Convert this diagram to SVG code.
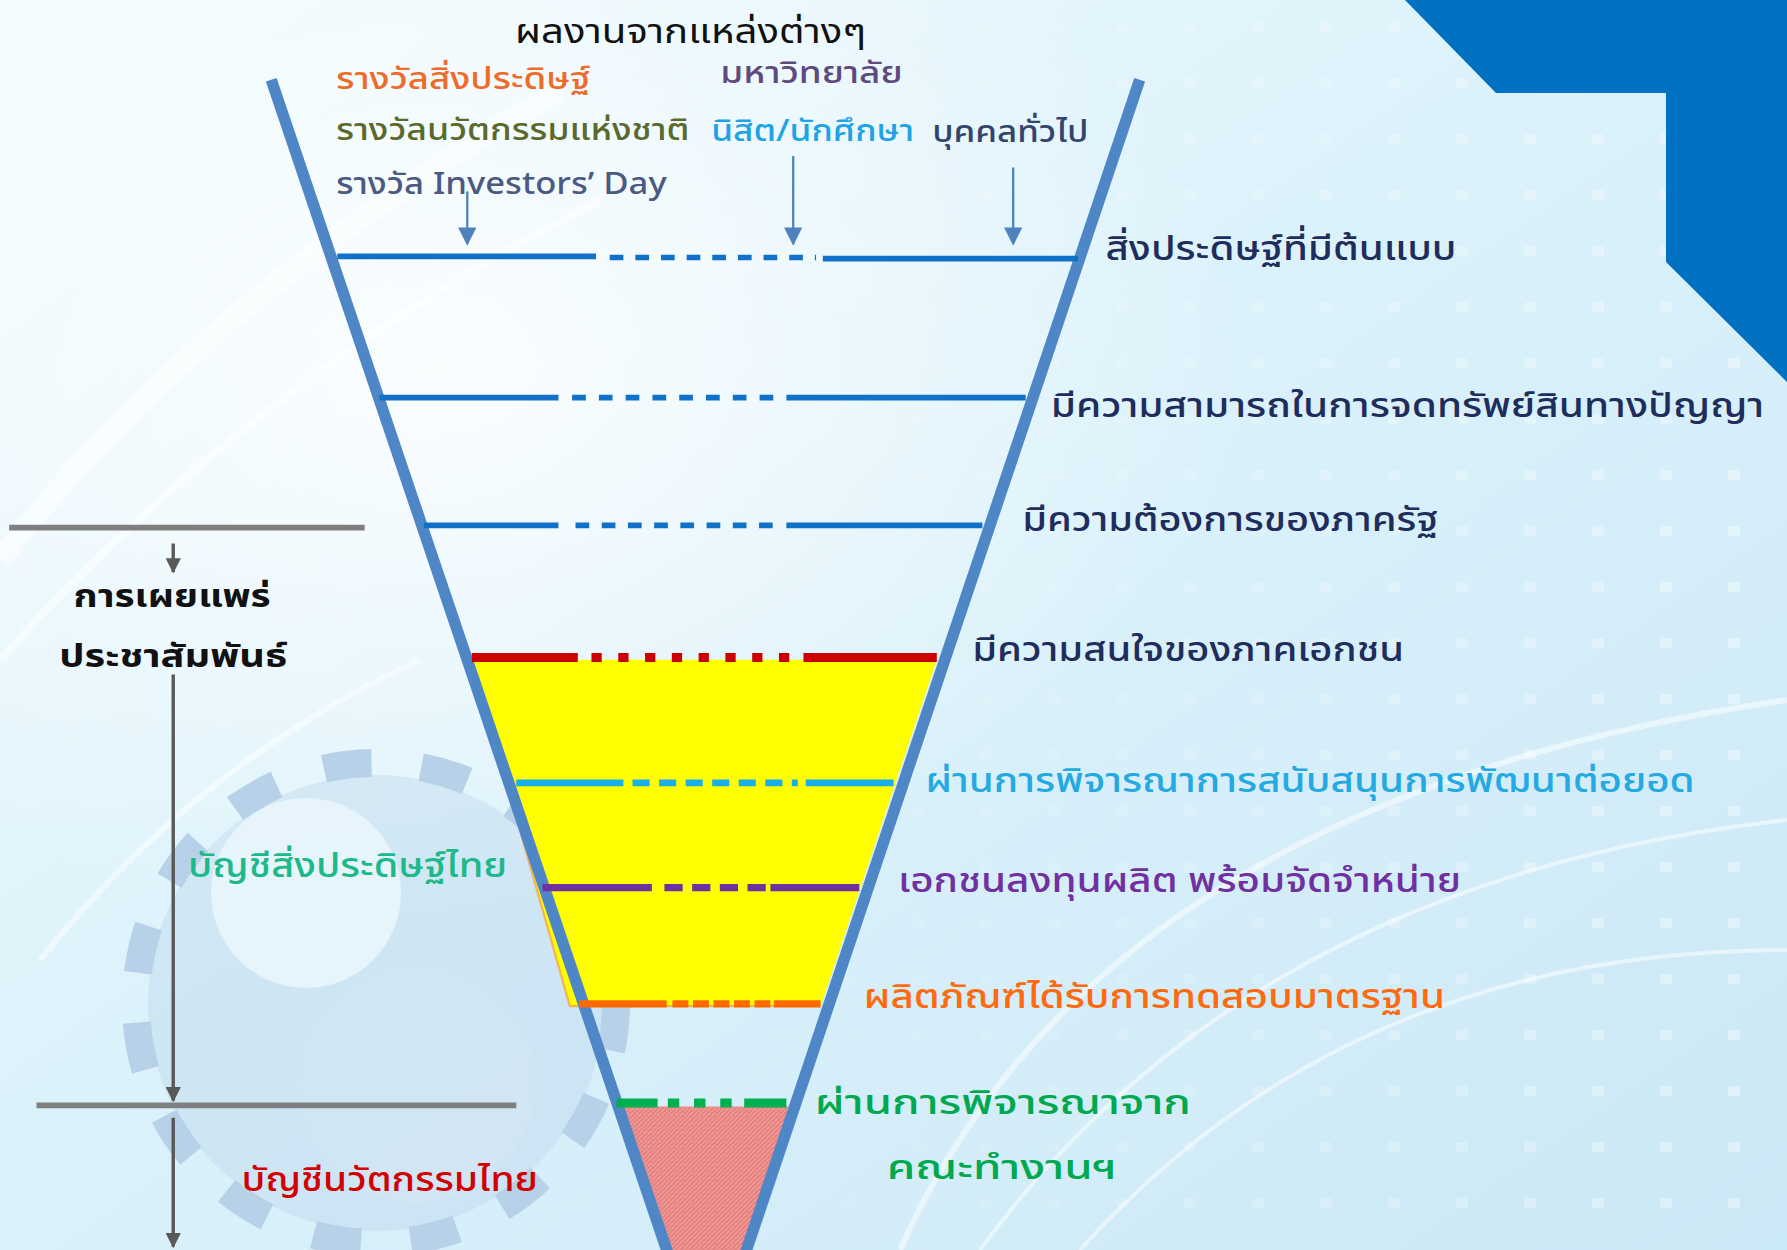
<svg xmlns="http://www.w3.org/2000/svg" width="1787" height="1250" viewBox="0 0 1787 1250">
<defs>
  <linearGradient id="bg" x1="0" y1="0" x2="1" y2="1">
    <stop offset="0" stop-color="#f4fcfe"/>
    <stop offset="0.45" stop-color="#dcf2fb"/>
    <stop offset="1" stop-color="#cbe8f6"/>
  </linearGradient>
  <radialGradient id="glow" cx="0.25" cy="0.3" r="0.45">
    <stop offset="0" stop-color="#ffffff" stop-opacity="0.8"/>
    <stop offset="1" stop-color="#ffffff" stop-opacity="0"/>
  </radialGradient>
  <linearGradient id="dotfade" x1="0" y1="0" x2="1" y2="0">
    <stop offset="0" stop-color="#ffffff" stop-opacity="0"/>
    <stop offset="0.45" stop-color="#ffffff" stop-opacity="0.1"/>
    <stop offset="1" stop-color="#ffffff" stop-opacity="1"/>
  </linearGradient>
  <mask id="dotmask"><rect width="1787" height="1250" fill="url(#dotfade)"/></mask>
  <pattern id="dots" width="68" height="56" patternUnits="userSpaceOnUse">
    <rect x="28" y="22" width="12" height="10" rx="3" fill="#ffffff" fill-opacity="0.4"/>
  </pattern>
  <pattern id="hatch" width="4" height="4" patternUnits="userSpaceOnUse">
    <rect width="4" height="4" fill="#e57f7c"/>
    <path d="M0 4 L4 0" stroke="#f2a6a3" stroke-width="1"/>
  </pattern>
  <marker id="ab" viewBox="0 0 10 10" refX="9" refY="5" markerWidth="8" markerHeight="8" orient="auto" markerUnits="strokeWidth">
    <path d="M0 0 L10 5 L0 10 z" fill="#4f81bd"/>
  </marker>
  <marker id="ag" viewBox="0 0 10 10" refX="9" refY="5" markerWidth="4.5" markerHeight="4.5" orient="auto" markerUnits="strokeWidth">
    <path d="M0 0 L10 5 L0 10 z" fill="#595959"/>
  </marker>
  <style>
    .t { font-family: "Noto Sans Thai", "Tahoma", "Noto Sans", "DejaVu Sans", sans-serif; }
    .nav { fill: #1f2d5c; font-size: 30px; font-weight: 500; }
    .funnel { stroke: #4f86c6; stroke-width: 10; stroke-linecap: butt; fill: none; }
    .blu { stroke: #1170c8; stroke-width: 5; fill: none; }
    .gray { stroke: #7f7f7f; stroke-width: 5; fill: none; }
    .garr { stroke: #595959; stroke-width: 3; fill: none; }
    .barr { stroke: #4f81bd; stroke-width: 2; fill: none; }
  </style>
</defs>

<g id="background">
  <rect width="1787" height="1250" fill="url(#bg)"/>
  <rect width="1787" height="1250" fill="url(#glow)"/>
  <rect width="1787" height="1250" fill="url(#dots)" mask="url(#dotmask)"/>
  <g fill="none" stroke="#ffffff" stroke-opacity="0.5">
    <path d="M0 560 Q200 300 560 90" stroke-width="22"/>
    <path d="M0 660 Q250 380 600 200" stroke-width="8"/>
    <path d="M40 960 Q200 760 420 660" stroke-width="6"/>
    <path d="M900 1250 Q1100 800 1787 700" stroke-width="6"/>
    <path d="M980 1250 Q1250 880 1787 820" stroke-width="4"/>
    <path d="M1080 1250 Q1350 950 1787 950" stroke-width="4"/>
  </g>
  <g transform="translate(376,1003)" fill="#b7d1e8" fill-opacity="0.35">
    <circle r="228"/>
    <circle r="240" fill="none" stroke="#b7d1e8" stroke-width="28" stroke-dasharray="48 50" stroke-linejoin="round"/>
    <circle cx="-70" cy="-110" r="95" fill="#eaf6fc" fill-opacity="0.85"/>
    <circle cx="40" cy="80" r="120" fill="#d3e6f3" fill-opacity="0.6"/>
  </g>
  <polygon points="1405,0 1787,0 1787,382 1666,262 1666,93 1496,93" fill="#0070c0"/>
</g>

<g transform="scale(1.13967,1.13947)">
  <g id="fills">
    <polygon points="414,579 822,579 720,883 500,883" fill="#ffff00"/>
    <path d="M414 579 L500 883 L720 883" fill="none" stroke="#ff9a3c" stroke-width="2" stroke-opacity="0.7"/>
    <polygon points="547,971 692,971 655,1097 586,1097" fill="url(#hatch)"/>
  </g>

  <g id="connectors">
    <line class="funnel" x1="238" y1="70" x2="586" y2="1100"/>
    <line class="funnel" x1="1000" y1="70" x2="654" y2="1100"/>

    <line class="blu" x1="296" y1="225" x2="523" y2="225"/>
    <line class="blu" x1="535" y1="226" x2="716" y2="226" stroke-dasharray="12 10.5" stroke-width="6"/>
    <line class="blu" x1="722" y1="227" x2="946" y2="227"/>

    <line class="blu" x1="333" y1="349" x2="490" y2="349"/>
    <line class="blu" x1="502" y1="349" x2="686" y2="349" stroke-dasharray="12 11.5" stroke-width="6"/>
    <line class="blu" x1="690" y1="349" x2="900" y2="349"/>

    <line class="blu" x1="372" y1="461" x2="490" y2="461"/>
    <line class="blu" x1="505" y1="461" x2="686" y2="461" stroke-dasharray="12 11" stroke-width="6"/>
    <line class="blu" x1="690" y1="461" x2="862" y2="461"/>

    <g stroke="#cc0000" stroke-width="8" fill="none">
      <line x1="414" y1="577" x2="507" y2="577"/>
      <line x1="519" y1="577" x2="697" y2="577" stroke-dasharray="9 14.5"/>
      <line x1="705" y1="577" x2="822" y2="577"/>
    </g>
    <g stroke="#17b0ea" stroke-width="6" fill="none">
      <line x1="453" y1="687" x2="547" y2="687"/>
      <line x1="555" y1="687" x2="700" y2="687" stroke-dasharray="15 8.3"/>
      <line x1="707" y1="687" x2="784" y2="687"/>
    </g>
    <g stroke="#7030a0" stroke-width="6.5" fill="none">
      <line x1="476" y1="779" x2="572" y2="779"/>
      <line x1="583" y1="779" x2="672" y2="779" stroke-dasharray="16 8.3"/>
      <line x1="676" y1="779" x2="754" y2="779"/>
    </g>
    <g stroke="#ff6a00" stroke-width="6.5" fill="none">
      <line x1="508" y1="881" x2="585" y2="881"/>
      <line x1="590" y1="881" x2="676" y2="881" stroke-dasharray="14 4"/>
      <line x1="679" y1="881" x2="720" y2="881"/>
    </g>
    <g stroke="#00b050" stroke-width="8" fill="none">
      <line x1="541" y1="968" x2="577" y2="968"/>
      <line x1="586" y1="968" x2="644" y2="968" stroke-dasharray="10 13"/>
      <line x1="653" y1="968" x2="690" y2="968"/>
    </g>

    <line class="barr" x1="410" y1="168" x2="410" y2="214" marker-end="url(#ab)"/>
    <line class="barr" x1="696" y1="137" x2="696" y2="214" marker-end="url(#ab)"/>
    <line class="barr" x1="889" y1="147" x2="889" y2="214" marker-end="url(#ab)"/>

    <line class="gray" x1="8" y1="463" x2="320" y2="463"/>
    <line class="gray" x1="32" y1="970" x2="453" y2="970"/>
    <line class="garr" x1="152" y1="477" x2="152" y2="502" marker-end="url(#ag)"/>
    <line class="garr" x1="152" y1="592" x2="152" y2="966" marker-end="url(#ag)"/>
    <line class="garr" x1="152" y1="981" x2="152" y2="1094" marker-end="url(#ag)"/>
  </g>

  <g id="title">
    <text class="t" x="606" y="38" text-anchor="middle" font-size="29" fill="#111111" textLength="308" lengthAdjust="spacingAndGlyphs">ผลงานจากแหล่งต่างๆ</text>
  </g>
  <g id="sources">
    <text class="t" x="295" y="78" font-size="27" font-weight="500" fill="#ed6c2a" textLength="223" lengthAdjust="spacingAndGlyphs">รางวัลสิ่งประดิษฐ์</text>
    <text class="t" x="632" y="73" font-size="27" font-weight="500" fill="#5f4a80" textLength="160" lengthAdjust="spacingAndGlyphs">มหาวิทยาลัย</text>
    <text class="t" x="295" y="123" font-size="27" font-weight="500" fill="#5a6a2c" textLength="310" lengthAdjust="spacingAndGlyphs">รางวัลนวัตกรรมแห่งชาติ</text>
    <text class="t" x="624" y="124" font-size="27" font-weight="500" fill="#1ea4e6" textLength="178" lengthAdjust="spacingAndGlyphs">นิสิต/นักศึกษา</text>
    <text class="t" x="818" y="125" font-size="27" font-weight="500" fill="#33456e" textLength="137" lengthAdjust="spacingAndGlyphs">บุคคลทั่วไป</text>
    <text class="t" x="295" y="170" font-size="27" font-weight="500" fill="#4a5a82" textLength="290" lengthAdjust="spacingAndGlyphs">รางวัล Investors’ Day</text>
  </g>

  <g id="node-prototype"><text class="t nav" x="970" y="228" textLength="308" lengthAdjust="spacingAndGlyphs">สิ่งประดิษฐ์ที่มีต้นแบบ</text></g>
  <g id="node-ip"><text class="t nav" x="922" y="366" textLength="626" lengthAdjust="spacingAndGlyphs">มีความสามารถในการจดทรัพย์สินทางปัญญา</text></g>
  <g id="node-gov"><text class="t nav" x="897" y="466" textLength="365" lengthAdjust="spacingAndGlyphs">มีความต้องการของภาครัฐ</text></g>
  <g id="node-private"><text class="t nav" x="853" y="580" textLength="379" lengthAdjust="spacingAndGlyphs">มีความสนใจของภาคเอกชน</text></g>
  <g id="node-support"><text class="t" x="812" y="695" font-size="30" font-weight="500" fill="#25a9e2" textLength="675" lengthAdjust="spacingAndGlyphs">ผ่านการพิจารณาการสนับสนุนการพัฒนาต่อยอด</text></g>
  <g id="node-invest"><text class="t" x="788" y="783" font-size="30" font-weight="500" fill="#7030a0" textLength="494" lengthAdjust="spacingAndGlyphs">เอกชนลงทุนผลิต พร้อมจัดจำหน่าย</text></g>
  <g id="node-standard"><text class="t" x="758" y="885" font-size="30" font-weight="500" fill="#ff6a10" textLength="510" lengthAdjust="spacingAndGlyphs">ผลิตภัณฑ์ได้รับการทดสอบมาตรฐาน</text></g>
  <g id="node-committee">
    <text class="t" x="715" y="978" font-size="30" font-weight="500" fill="#00a84f" textLength="330" lengthAdjust="spacingAndGlyphs">ผ่านการพิจารณาจาก</text>
    <text class="t" x="778" y="1035" font-size="30" font-weight="500" fill="#00a84f" textLength="202" lengthAdjust="spacingAndGlyphs">คณะทำงานฯ</text>
  </g>

  <g id="node-pr">
    <text class="t" x="151" y="533" text-anchor="middle" font-size="28" font-weight="bold" fill="#111111" textLength="173" lengthAdjust="spacingAndGlyphs">การเผยแพร่</text>
    <text class="t" x="152" y="585" text-anchor="middle" font-size="28" font-weight="bold" fill="#111111" textLength="200" lengthAdjust="spacingAndGlyphs">ประชาสัมพันธ์</text>
  </g>
  <g id="node-invention-list"><text class="t" x="165" y="770" font-size="29" font-weight="500" fill="#1db98a" textLength="280" lengthAdjust="spacingAndGlyphs">บัญชีสิ่งประดิษฐ์ไทย</text></g>
  <g id="node-innovation-list"><text class="t" x="212" y="1045" font-size="29" font-weight="500" fill="#d20000" textLength="260" lengthAdjust="spacingAndGlyphs">บัญชีนวัตกรรมไทย</text></g>
</g>
</svg>
